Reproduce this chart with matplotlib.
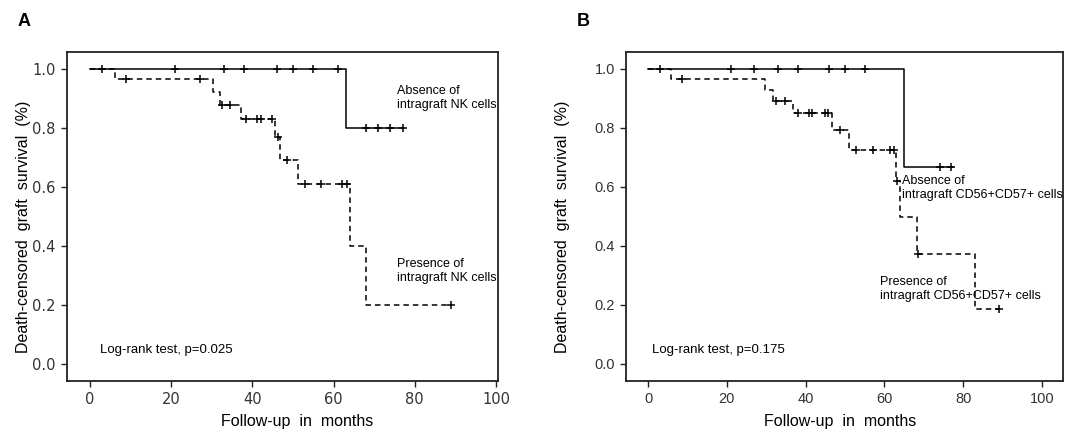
import numpy as np
import matplotlib.pyplot as plt

# Panel A - NK cells
a_abs_times = [0, 63, 77]
a_abs_surv = [1.0, 0.80, 0.80]
a_abs_cens = [3, 21, 33, 38, 46, 50, 55, 61, 68, 71, 74, 77]

a_pres_times = [0, 6.2, 30.2, 32.0, 37.1, 45.6, 46.8, 51.3, 64.0, 68.1, 89]
a_pres_surv = [1.0, 0.963, 0.920, 0.878, 0.830, 0.767, 0.689, 0.607, 0.400, 0.200, 0.200]
a_pres_cens = [8.8, 27, 32.5, 34.5, 38.4, 41, 42, 44.8, 46.2, 48.4, 53, 57, 62, 63.2, 89]

# Panel B - CD56+CD57+ cells
b_abs_times = [0, 65, 77.3]
b_abs_surv = [1.0, 0.667, 0.667]
b_abs_cens = [3, 21, 27, 33, 38, 46, 50, 55, 74, 77]

b_pres_times = [0, 5.8, 29.7, 31.8, 36.9, 46.8, 51.1, 62.9, 64.0, 68.2, 83.0, 89]
b_pres_surv = [1.0, 0.963, 0.928, 0.889, 0.848, 0.790, 0.724, 0.620, 0.497, 0.372, 0.186, 0.186]
b_pres_cens = [8.6, 32.6, 34.8, 38, 40.9, 41.7, 44.9, 45.7, 48.7, 52.8, 57.2, 61.3, 62.3, 63.2, 68.4, 89]

y_ticks = [0.0, 0.2, 0.4, 0.6, 0.8, 1.0]
x_ticks = [0, 20, 40, 60, 80, 100]

sans = ['Liberation Sans', 'DejaVu Sans']


def level_at(times, surv, t):
    # survival level of the step curve at time t
    idx = np.searchsorted(times, t, side='right') - 1
    return np.array(surv)[idx]


def draw_km(ax, times, surv, cens, ls):
    line, = ax.step(times, surv, where='post', color='black', lw=1.1)
    if ls == '--':
        line.set_dashes((3.6, 2.6))
    ax.plot(cens, level_at(times, surv, cens), ls='none', marker='+',
            ms=5.5, mew=1.1, color='black')


def setup_axes(ax, xlim, tick_font, xlabel_x, ylabel_x):
    ax.set_xlim(*xlim)
    ax.set_ylim(-0.059, 1.056)
    ax.set_xticks(x_ticks)
    ax.set_yticks(y_ticks)
    ax.set_yticklabels([f'{v:.1f}' for v in y_ticks])
    for s in ax.spines.values():
        s.set_linewidth(1.3)
        s.set_color('#222222')
    ax.tick_params(direction='out', length=4, width=1, colors='#222222',
                   labelsize=10.5, pad=4)
    for lab in ax.get_xticklabels() + ax.get_yticklabels():
        lab.set_family(tick_font)
        lab.set_color('#333333')
    ax.set_xlabel('Follow-up  in  months', family=sans, fontsize=11.5)
    ax.xaxis.set_label_coords(xlabel_x, -0.1)
    ax.set_ylabel('Death-censored  graft  survival  (%)', family=sans, fontsize=11.5)
    ax.yaxis.set_label_coords(ylabel_x, 0.47)


fig = plt.figure(figsize=(10.7, 4.33), dpi=100)
ax_a = fig.add_axes([0.0626, 0.1201, 0.4028, 0.7598])
ax_b = fig.add_axes([0.5850, 0.1201, 0.4084, 0.7598])

# Panel A
draw_km(ax_a, a_abs_times, a_abs_surv, a_abs_cens, '-')
draw_km(ax_a, a_pres_times, a_pres_surv, a_pres_cens, '--')
setup_axes(ax_a, (-5.7, 100.5), 'DejaVu Sans', 0.535, -0.084)
ax_a.text(75.6, 0.90, 'Absence of\nintragraft NK cells', family=sans, fontsize=9, va='center')
ax_a.text(75.6, 0.315, 'Presence of\nintragraft NK cells', family=sans, fontsize=9, va='center')
ax_a.text(2.5, 0.045, 'Log-rank test, p=0.025', family=sans, fontsize=9.5, va='center')
fig.text(0.016, 0.97, 'A', family=sans, fontsize=13, fontweight='bold', va='top')

# Panel B
draw_km(ax_b, b_abs_times, b_abs_surv, b_abs_cens, '-')
draw_km(ax_b, b_pres_times, b_pres_surv, b_pres_cens, '--')
setup_axes(ax_b, (-5.6, 105.3), sans, 0.49, -0.128)
ax_b.text(64.5, 0.595, 'Absence of\nintragraft CD56+CD57+ cells', family=sans, fontsize=9, va='center')
ax_b.text(59.0, 0.254, 'Presence of\nintragraft CD56+CD57+ cells', family=sans, fontsize=9, va='center')
ax_b.text(1.0, 0.045, 'Log-rank test, p=0.175', family=sans, fontsize=9.5, va='center')
fig.text(0.539, 0.97, 'B', family=sans, fontsize=13, fontweight='bold', va='top')

fig.savefig('out.png', dpi=100)
